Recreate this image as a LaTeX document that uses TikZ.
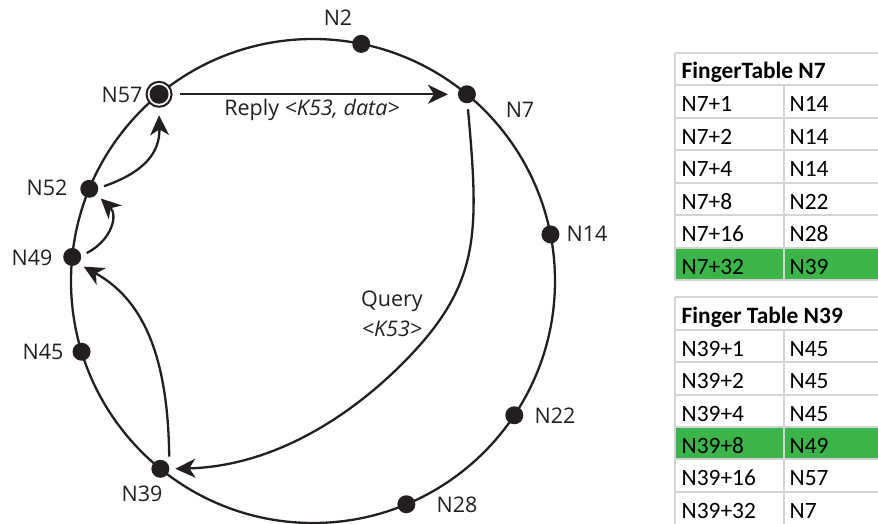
\documentclass[tikz,border=0pt]{standalone}
\usepackage{fontspec}
\setmainfont{Open Sans}
\newfontfamily\tablefont{Carlito}
\usetikzlibrary{arrows.meta,calc}
\definecolor{ink}{HTML}{231F20}
\definecolor{cellgreen}{RGB}{59,180,74}
\definecolor{gridgray}{RGB}{212,212,212}

\begin{document}
\begin{tikzpicture}[x=1pt,y=-1pt,
  ringline/.style={draw=ink, line width=2.3pt},
  dot/.style={circle, fill=ink, inner sep=0pt, minimum size=18pt, outer sep=6pt},
  startdot/.style={circle, draw=ink, line width=2pt, fill=white, inner sep=0pt,
    minimum size=25pt, outer sep=8.5pt,
    path picture={\fill[ink] (path picture bounding box.center) circle[radius=9.5pt];}},
  lab/.style={text=ink, font=\fontsize{21.5}{30}\selectfont, inner sep=0pt},
  conn/.style={draw=ink, line width=2.3pt, -{Stealth[length=20pt,width=19pt,inset=6pt]}},
  celltext/.style={font=\tablefont\fontsize{23.4}{28}\selectfont, anchor=base west, inner sep=0pt},
  headtext/.style={font=\tablefont\bfseries\fontsize{23.4}{28}\selectfont, anchor=base west, inner sep=0pt},
  gridline/.style={draw=gridgray, line width=2pt}
]
\useasboundingbox (0,0) rectangle (878,523);

% ---------- the ring ----------
\coordinate (O) at (313,281);
\draw[ringline] (O) circle[radius=242pt];

\node[dot] (N2)  at ($(O)+(-78.5:242)$) {};
\node[dot] (N7)  at ($(O)+(-50.5:242)$) {};
\node[dot] (N14) at ($(O)+(-11.1:242)$) {};
\node[dot] (N22) at ($(O)+(33.7:242)$) {};
\node[dot] (N28) at ($(O)+(67.3:242)$) {};
\node[dot] (N39) at ($(O)+(129.1:242)$) {};
\node[dot] (N45) at ($(O)+(163.0:242)$) {};
\node[dot] (N49) at ($(O)+(185.7:242)$) {};
\node[dot] (N52) at ($(O)+(202.4:242)$) {};
\node[startdot] (N57) at ($(O)+(230.5:242)$) {};

% node names
\node[lab] (lN2)  at (338,18)  {N2};
\node[lab] (lN7)  at (520,110) {N7};
\node[lab] (lN14) at (587,234) {N14};
\node[lab] (lN22) at (555,416) {N22};
\node[lab] (lN28) at (457,505) {N28};
\node[lab] (lN39) at (142,494) {N39};
\node[lab] (lN45) at (43,352)  {N45};
\node[lab] (lN49) at (32,258)  {N49};
\node[lab] (lN52) at (47,188)  {N52};
\node[lab] (lN57) at (122,95)  {N57};

% ---------- lookup path ----------
\draw[conn] (N7.-86) .. controls (478,220) and (479.6,270.6) .. (430,333)
            .. controls (403,367) and (310,465) .. (N39.east);
\draw[conn] (N39.54) .. controls (168,350) and (140,298) .. (N49.-40);
\draw[conn] (N49.15) .. controls (112,240) and (118,215) .. (N52.-40);
\draw[conn] (N52.10) .. controls (145,172) and (160,152) .. (N57.south);
\draw[conn, shorten >=4pt] (N57) -- (N7);

\node[lab] (reply) at (312,110) {Reply \textit{<K53, data>}};
\node[lab, align=center] (query) at (392,314) {Query\\\textit{<K53>}};

% ---------- finger table of N7 ----------
\fill[cellgreen] (675,247.5) rectangle (880,280);
\foreach \yy in {53.3,85,117.5,150,182.5,215,247.5,280}
  \draw[gridline] (675,\yy) -- (880,\yy);
\draw[gridline] (675,53.3) -- (675,280);
\draw[gridline] (784,85) -- (784,280);
\node[headtext] (t7h) at (681.5,78.3) {FingerTable N7};
\foreach \a/\b [count=\i] in {N7+1/N14,N7+2/N14,N7+4/N14,N7+8/N22,N7+16/N28,N7+32/N39}{
  \node[celltext] (t7a\i) at (681.5,{85+32.5*\i-5.8}) {\a};
  \node[celltext] (t7b\i) at (789.5,{85+32.5*\i-5.8}) {\b};
}

% ---------- finger table of N39 ----------
\fill[cellgreen] (675,426.9) rectangle (880,459.2);
\foreach \yy in {296.7,330,362.3,394.6,426.9,459.2,491.5}
  \draw[gridline] (675,\yy) -- (880,\yy);
\draw[gridline] (675,296.7) -- (675,525);
\draw[gridline] (784,330) -- (784,525);
\node[headtext] (t39h) at (681.5,323.3) {Finger Table N39};
\foreach \a/\b [count=\i] in {N39+1/N45,N39+2/N45,N39+4/N45,N39+8/N49,N39+16/N57,N39+32/N7}{
  \node[celltext] (t39a\i) at (681.5,{330+32.3*\i-5.8}) {\a};
  \node[celltext] (t39b\i) at (789.5,{330+32.3*\i-5.8}) {\b};
}
\end{tikzpicture}
\end{document}
